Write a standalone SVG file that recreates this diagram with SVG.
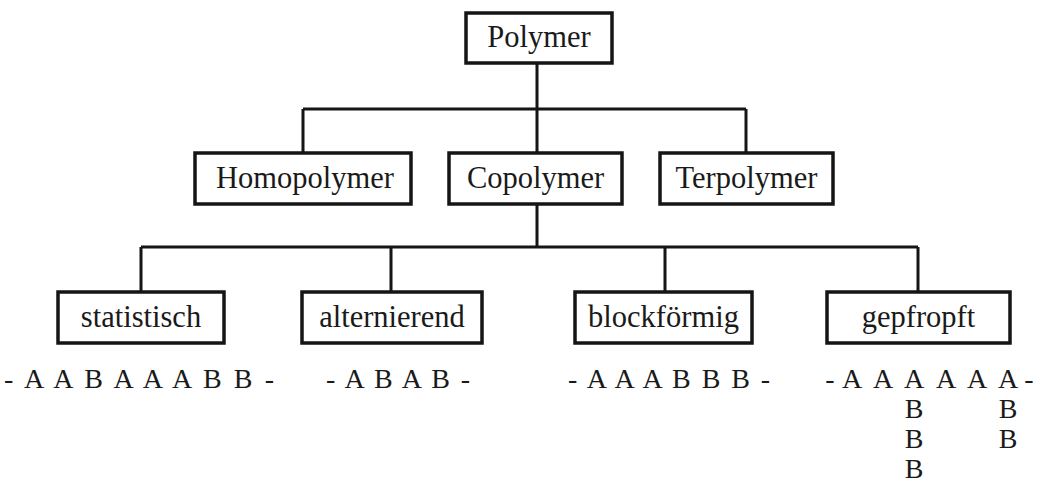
<svg xmlns="http://www.w3.org/2000/svg" width="1038" height="482" viewBox="0 0 1038 482">
  <style>
    .box { fill: #ffffff; stroke: #151515; stroke-width: 3.5; }
    .lbl { font-family: "Liberation Serif", "Times New Roman", serif; font-size: 30.5px; fill: #1a1a1a; text-anchor: middle; }
    .seq { font-family: "Liberation Serif", "Times New Roman", serif; font-size: 28px; fill: #1a1a1a; }
    .ch { font-family: "Liberation Serif", "Times New Roman", serif; font-size: 28px; fill: #1a1a1a; text-anchor: middle; }
    .con { fill: none; stroke: #151515; stroke-width: 3; }
  </style>
  <rect width="1038" height="482" fill="#ffffff"/>

  <g id="connectors">
    <path class="con" d="M537,63 V109 M303,109 H746 M303,109 V153 M537,109 V153 M746,109 V153"/>
    <path class="con" d="M537,204 V247 M141,247 H918 M141,247 V292 M391,247 V292 M665,247 V292 M918,247 V292"/>
  </g>

  <g id="polymer">
    <rect class="box" x="466" y="13" width="146" height="50"/>
    <text class="lbl" x="539" y="47">Polymer</text>
  </g>
  <g id="homopolymer">
    <rect class="box" x="195" y="153" width="216" height="51"/>
    <text class="lbl" x="305" y="188">Homopolymer</text>
  </g>
  <g id="copolymer">
    <rect class="box" x="449" y="153" width="173" height="51"/>
    <text class="lbl" x="535.5" y="188">Copolymer</text>
  </g>
  <g id="terpolymer">
    <rect class="box" x="660" y="153" width="173" height="51"/>
    <text class="lbl" x="746.5" y="188">Terpolymer</text>
  </g>
  <g id="statistisch">
    <rect class="box" x="58" y="292" width="166" height="51"/>
    <text class="lbl" x="141" y="327">statistisch</text>
    <text class="seq" x="4" y="388" textLength="270" lengthAdjust="spacing">- A A B A A A B B -</text>
  </g>
  <g id="alternierend">
    <rect class="box" x="302" y="292" width="180" height="51"/>
    <text class="lbl" x="392" y="327">alternierend</text>
    <text class="seq" x="326" y="388" textLength="144" lengthAdjust="spacing">- A B A B -</text>
  </g>
  <g id="blockfoermig">
    <rect class="box" x="575" y="292" width="177" height="51"/>
    <text class="lbl" x="663.5" y="327">blockförmig</text>
    <text class="seq" x="568" y="388" textLength="202" lengthAdjust="spacing">- A A A B B B -</text>
  </g>
  <g id="gepfropft">
    <rect class="box" x="827" y="292" width="183" height="51"/>
    <text class="lbl" x="918.5" y="327">gepfropft</text>
    <text class="ch" x="830" y="388">-</text>
    <text class="ch" x="852" y="388">A</text>
    <text class="ch" x="883" y="388">A</text>
    <text class="ch" x="914" y="388">A</text>
    <text class="ch" x="946" y="388">A</text>
    <text class="ch" x="977" y="388">A</text>
    <text class="ch" x="1008" y="388">A</text>
    <text class="ch" x="1029" y="388">-</text>
    <text class="ch" x="914" y="418">B</text>
    <text class="ch" x="914" y="448">B</text>
    <text class="ch" x="914" y="478">B</text>
    <text class="ch" x="1008" y="418">B</text>
    <text class="ch" x="1008" y="448">B</text>
  </g>
</svg>
